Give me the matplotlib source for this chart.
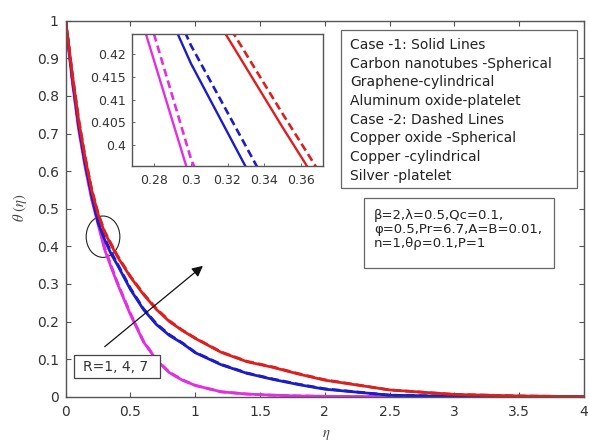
import matplotlib
matplotlib.use("Agg")
import matplotlib.pyplot as plt
from matplotlib.patches import Ellipse, Rectangle

plt.rcParams['font.family'] = ['DejaVu Sans']
plt.rcParams['mathtext.fontset'] = 'stix'

# ---- data ----
eta = [0, 0.05, 0.1, 0.15, 0.2, 0.25, 0.3, 0.35, 0.4, 0.5, 0.6, 0.7, 0.8, 0.9,
       1.0, 1.2, 1.4, 1.6, 1.8, 2.0, 2.5, 3.0, 3.5, 4.0]

# Case 1 (solid lines)
theta_R1_solid = [1.0, 0.84, 0.71, 0.61, 0.525, 0.458, 0.392, 0.345, 0.30, 0.218, 0.146,
                  0.098, 0.064, 0.044, 0.030, 0.013, 0.007, 0.004, 0.002, 0.001, 0, 0, 0, 0]
theta_R4_solid = [1.0, 0.85, 0.72, 0.62, 0.535, 0.463, 0.418, 0.380, 0.35, 0.285, 0.232,
                  0.192, 0.163, 0.142, 0.117, 0.085, 0.062, 0.046, 0.032, 0.020, 0.004, 0.001, 0, 0]
theta_R7_solid = [1.0, 0.86, 0.735, 0.635, 0.55, 0.485, 0.437, 0.404, 0.372, 0.318, 0.272,
                  0.232, 0.20, 0.176, 0.155, 0.118, 0.093, 0.078, 0.060, 0.044, 0.018, 0.006, 0.002, 0]

# Case 2 (dashed lines)
theta_R1_dashed = [1.0, 0.843, 0.715, 0.615, 0.531, 0.465, 0.397, 0.349, 0.303, 0.221, 0.148,
                   0.099, 0.065, 0.045, 0.030, 0.013, 0.007, 0.004, 0.002, 0.001, 0, 0, 0, 0]
theta_R4_dashed = [1.0, 0.853, 0.724, 0.624, 0.539, 0.467, 0.422, 0.385, 0.353, 0.288, 0.234,
                   0.194, 0.165, 0.143, 0.118, 0.086, 0.063, 0.047, 0.033, 0.021, 0.004, 0.001, 0, 0]
theta_R7_dashed = [1.0, 0.862, 0.738, 0.638, 0.553, 0.488, 0.440, 0.407, 0.375, 0.320, 0.274,
                   0.234, 0.202, 0.177, 0.156, 0.119, 0.094, 0.079, 0.061, 0.045, 0.018, 0.006, 0.002, 0]

colors = {'R1': '#e22fe2', 'R4': '#1c1cc8', 'R7': '#dd1f1f'}

x_ticks = [0, 0.5, 1, 1.5, 2, 2.5, 3, 3.5, 4]
x_ticklabels = ['0', '0.5', '1', '1.5', '2', '2.5', '3', '3.5', '4']
y_ticks = [0, 0.1, 0.2, 0.3, 0.4, 0.5, 0.6, 0.7, 0.8, 0.9, 1]
y_ticklabels = ['0', '0.1', '0.2', '0.3', '0.4', '0.5', '0.6', '0.7', '0.8', '0.9', '1']
inset_xticks = [0.28, 0.30, 0.32, 0.34, 0.36]
inset_xticklabels = ['0.28', '0.3', '0.32', '0.34', '0.36']
inset_yticks = [0.40, 0.405, 0.41, 0.415, 0.42]
inset_yticklabels = ['0.4', '0.405', '0.41', '0.415', '0.42']

legend_lines = ['Case -1: Solid Lines', 'Carbon nanotubes -Spherical', 'Graphene-cylindrical',
                'Aluminum oxide-platelet', 'Case -2: Dashed Lines', 'Copper oxide -Spherical',
                'Copper -cylindrical', 'Silver -platelet']
param_lines = ['β=2,λ=0.5,Qc=0.1,', 'φ=0.5,Pr=6.7,A=B=0.01,', 'n=1,θρ=0.1,P=1']
r_label = 'R=1, 4, 7'

W, H = 589, 440
fig = plt.figure(figsize=(W / 100, H / 100), dpi=100)

def fx(px):
    return px / W

def fy(py):
    return 1 - py / H

axcol = '#555555'
txtcol = '#333333'

# ---- main axes ----
ax = fig.add_axes([fx(65.7), fy(396.7), fx(584 - 65.7), (396.7 - 20.7) / H])
series = [('R1', theta_R1_solid, theta_R1_dashed),
          ('R4', theta_R4_solid, theta_R4_dashed),
          ('R7', theta_R7_solid, theta_R7_dashed)]
for key, ys, yd in series:
    ax.plot(eta, yd, color=colors[key], lw=2.0, ls=(0, (3, 1.5)))
    ax.plot(eta, ys, color=colors[key], lw=2.0)
ax.set_xlim(0, 4)
ax.set_ylim(0, 1)
ax.set_xticks(x_ticks)
ax.set_xticklabels(x_ticklabels)
ax.set_yticks(y_ticks)
ax.set_yticklabels(y_ticklabels)
ax.tick_params(direction='in', length=3.5, width=0.8, colors=axcol, labelcolor=txtcol,
               labelsize=10, top=True, right=True)
ax.tick_params(axis='x', pad=6)
ax.tick_params(axis='y', pad=5)
for s in ax.spines.values():
    s.set_color(axcol)
    s.set_linewidth(1.0)

# ellipse and arrow
ax.add_patch(Ellipse((0.288, 0.4255), 0.26, 0.11, fill=False, ec='#222222', lw=0.8))
ax.annotate('', xy=(1.059, 0.348), xytext=(0.301, 0.133),
            arrowprops=dict(arrowstyle='-|>', color='#111111', lw=0.9,
                            mutation_scale=16, shrinkA=0, shrinkB=0))

# labels
fig.text(fx(20), fy(208), r'$\theta\ (\eta)$', rotation=90, ha='center', va='center',
         fontsize=10.5, color='#444444')
fig.text(fx(326), fy(434), r'$\eta$', ha='center', va='center', fontsize=10.5, color='#444444')

# R box
fig.patches.append(Rectangle((fx(74), fy(378.3)), fx(160 - 74), (378.3 - 354.7) / H,
                             transform=fig.transFigure, fill=True, fc='white',
                             ec='#444444', lw=0.9, figure=fig, zorder=5))
fig.text(fx(82.7), fy(367), r_label, ha='left', va='center', fontsize=10, color='#333333',
         zorder=6)

# legend box
fig.patches.append(Rectangle((fx(341), fy(188.3)), fx(577.3 - 341), (188.3 - 30) / H,
                             transform=fig.transFigure, fill=True, fc='white',
                             ec='#666666', lw=0.9, figure=fig, zorder=5))
for i, line in enumerate(legend_lines):
    fig.text(fx(350.5), fy(45 + i * 18.67), line, ha='left', va='center', fontsize=10,
             color='#222222', zorder=6)

# parameter box
fig.patches.append(Rectangle((fx(364), fy(267.7)), fx(554 - 364), (267.7 - 197.7) / H,
                             transform=fig.transFigure, fill=True, fc='white',
                             ec='#666666', lw=0.9, figure=fig, zorder=5))
for i, line in enumerate(param_lines):
    fig.text(fx(374), fy(215 + i * 14.2), line, ha='left', va='center', fontsize=9.5,
             color='#222222', zorder=6)

# ---- inset ----
axi = fig.add_axes([fx(131.7), fy(166), fx(323.3 - 131.7), (166 - 34) / H])
for key, ys, yd in series:
    axi.plot(eta, ys, color=colors[key], lw=1.7)
    axi.plot(eta, yd, color=colors[key], lw=1.9, ls=(0, (3, 1.6)))
axi.set_xlim(0.2676, 0.3724)
axi.set_ylim(0.3954, 0.4245)
axi.set_xticks(inset_xticks)
axi.set_xticklabels(inset_xticklabels)
axi.set_yticks(inset_yticks)
axi.set_yticklabels(inset_yticklabels)
axi.tick_params(direction='in', length=2, width=0.6, colors=axcol, labelcolor=txtcol,
                labelsize=9)
axi.tick_params(axis='x', pad=6)
axi.tick_params(axis='y', pad=4)
for s in axi.spines.values():
    s.set_color(axcol)
    s.set_linewidth(1.0)

fig.savefig('out.png', dpi=100)
